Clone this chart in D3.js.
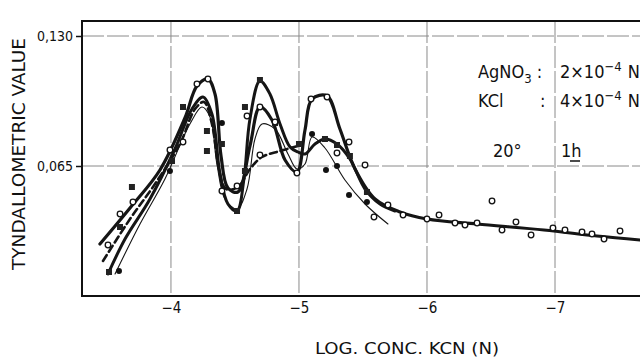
<!DOCTYPE html>
<html>
<head>
<meta charset="utf-8">
<script src="https://cdn.jsdelivr.net/npm/d3@7"></script>
<style>
  body { margin: 0; background: #fff; }
  text { font-family: "Liberation Sans Narrow", "DejaVu Sans Condensed", "Roboto", sans-serif; fill: #111; }
</style>
</head>
<body>
<script>
// tick values / labels
const xTicks = [-4, -5, -6, -7];
const yTicks = [0.065, 0.130];
const yTickLabels = ["0,065", "0,130"];

// thick solid curve (open circles)
const curveAx = [-3.445, -3.68, -3.914, -4.109, -4.203, -4.289, -4.344, -4.391, -4.445, -4.523, -4.617, -4.695, -4.789, -4.891, -4.984, -5.047, -5.102, -5.219, -5.32, -5.438, -5.594, -5.789, -6.0, -6.391, -6.914, -7.328, -7.664];
const curveAy = [0.026, 0.044, 0.063, 0.089, 0.105, 0.1085, 0.101, 0.07, 0.054, 0.052, 0.075, 0.0945, 0.088, 0.068, 0.062, 0.083, 0.0985, 0.1, 0.0835, 0.0635, 0.0485, 0.042, 0.0385, 0.036, 0.033, 0.030, 0.028];

// thick solid curve (filled squares)
const curveBx = [-3.508, -3.641, -3.836, -4.031, -4.164, -4.25, -4.32, -4.383, -4.445, -4.516, -4.57, -4.617, -4.695, -4.773, -4.852, -4.93, -4.992, -5.047, -5.125, -5.203, -5.297, -5.398, -5.516, -5.633, -5.75];
const curveBy = [0.011, 0.0285, 0.0485, 0.0735, 0.0935, 0.0995, 0.091, 0.061, 0.046, 0.0425, 0.0585, 0.0885, 0.1075, 0.101, 0.086, 0.0745, 0.072, 0.071, 0.076, 0.0785, 0.076, 0.0685, 0.0535, 0.046, 0.0425];

// dashed curve
const curveCx = [-3.469, -3.68, -3.875, -4.07, -4.188, -4.258, -4.32, -4.375, -4.43, -4.523, -4.617, -4.711, -4.852, -4.992];
const curveCy = [0.0175, 0.0385, 0.056, 0.076, 0.0935, 0.097, 0.086, 0.0635, 0.0535, 0.0545, 0.0635, 0.0695, 0.0725, 0.075];

// thin solid curve (filled circles)
const curveDx = [-3.563, -3.758, -3.953, -4.148, -4.242, -4.305, -4.359, -4.422, -4.516, -4.594, -4.656, -4.711, -4.813, -4.914, -4.984, -5.047, -5.102, -5.203, -5.359, -5.516, -5.695];
const curveDy = [0.011, 0.036, 0.0585, 0.086, 0.0945, 0.0895, 0.066, 0.0485, 0.0435, 0.0535, 0.0785, 0.086, 0.0835, 0.071, 0.0635, 0.066, 0.0795, 0.074, 0.058, 0.046, 0.036];

// measured points
const openX = [-3.508, -3.602, -3.703, -3.992, -4.094, -4.203, -4.289, -4.398, -4.516, -4.594, -4.695, -4.813, -4.695, -4.984, -5.094, -5.219, -5.391, -5.516, -5.297, -5.586, -5.695, -5.813,
  -6.0, -6.094, -6.219, -6.297, -6.391, -6.508, -6.586, -6.695, -6.813, -6.984, -7.078, -7.211, -7.289, -7.383, -7.508];
const openY = [0.0255, 0.041, 0.047, 0.073, 0.077, 0.106, 0.1085, 0.0525, 0.055, 0.09, 0.0945, 0.087, 0.0705, 0.0615, 0.0985, 0.0995, 0.077, 0.0655, 0.0715, 0.0395, 0.0455, 0.0405,
  0.0385, 0.0405, 0.0365, 0.0355, 0.0365, 0.0475, 0.033, 0.037, 0.0305, 0.034, 0.033, 0.032, 0.031, 0.0285, 0.0325];

const dotX = [-3.594, -3.992, -4.398, -5.102, -5.211, -5.297, -5.391, -5.531];
const dotY = [0.0125, 0.0625, 0.0865, 0.081, 0.063, 0.065, 0.0505, 0.047];

const squareX = [-3.516, -3.602, -3.695, -4.008, -4.094, -4.281, -4.281, -4.398, -4.516, -4.578, -4.578, -4.695, -4.813, -5.0, -5.203, -5.297, -5.398, -5.531];
const squareY = [0.012, 0.0345, 0.0545, 0.0675, 0.0945, 0.0825, 0.0725, 0.076, 0.0425, 0.0945, 0.0625, 0.108, 0.0865, 0.076, 0.0785, 0.0755, 0.07, 0.052];

const W = 640, H = 360;
const m = { top: 21, right: 0, bottom: 64, left: 82 };
const innerH = H - m.top - m.bottom; // 275

const svg = d3.select("body").append("svg")
  .attr("width", W)
  .attr("height", H);

const x = d3.scaleLinear().domain([-3.305, -7.664]).range([m.left, W]);
const y = d3.scaleLinear().domain([0, 0.1375]).range([m.top + innerH, m.top]);

// grid lines (faint, slightly broken like the scan)
svg.append("g")
  .selectAll("line.vg")
  .data(xTicks)
  .enter().append("line")
  .attr("x1", d => x(d)).attr("x2", d => x(d))
  .attr("y1", m.top).attr("y2", m.top + innerH)
  .attr("stroke", "#8a8a8a").attr("stroke-width", 1)
  .attr("stroke-dasharray", "22,3");

svg.append("g")
  .selectAll("line.hg")
  .data(yTicks)
  .enter().append("line")
  .attr("x1", m.left).attr("x2", W)
  .attr("y1", d => y(d)).attr("y2", d => y(d))
  .attr("stroke", "#8a8a8a").attr("stroke-width", 1)
  .attr("stroke-dasharray", "22,3");

// x axis
const xAxis = d3.axisBottom(x).tickValues(xTicks).tickSize(0).tickPadding(6)
  .tickFormat(d => "\u2212" + Math.abs(d));
const gx = svg.append("g")
  .attr("transform", "translate(0," + (m.top + innerH) + ")")
  .call(xAxis);
gx.select(".domain").remove();
gx.selectAll("text").attr("font-size", 15).attr("fill", "#111");

// y axis
const yAxis = d3.axisLeft(y).tickValues(yTicks).tickSize(6).tickPadding(3)
  .tickFormat((d, i) => yTickLabels[i]);
const gy = svg.append("g")
  .attr("transform", "translate(" + m.left + ",0)")
  .call(yAxis);
gy.select(".domain").remove();
gy.selectAll("line").attr("stroke", "#111").attr("stroke-width", 1.5);
gy.selectAll("text").attr("font-size", 14).attr("fill", "#111");

// frame
svg.append("path")
  .attr("d", "M" + W + "," + m.top + "H" + m.left + "V" + (m.top + innerH) + "H" + W)
  .attr("fill", "none").attr("stroke", "#111").attr("stroke-width", 2);

// curves
const line = d3.line()
  .x(d => x(d[0])).y(d => y(d[1]))
  .curve(d3.curveCatmullRom.alpha(0.5));

const curves = [
  { xs: curveAx, ys: curveAy, w: 3.2, dash: null },
  { xs: curveBx, ys: curveBy, w: 3, dash: null },
  { xs: curveCx, ys: curveCy, w: 2.6, dash: "7,4" },
  { xs: curveDx, ys: curveDy, w: 1.1, dash: null }
];

curves.forEach(c => {
  svg.append("path")
    .datum(c.xs.map((v, i) => [v, c.ys[i]]))
    .attr("d", line)
    .attr("fill", "none")
    .attr("stroke", "#151515")
    .attr("stroke-width", c.w)
    .attr("stroke-dasharray", c.dash)
    .attr("stroke-linecap", "round");
});

// markers
svg.append("g").selectAll("rect")
  .data(squareX.map((v, i) => [v, squareY[i]]))
  .enter().append("rect")
  .attr("x", d => x(d[0]) - 3).attr("y", d => y(d[1]) - 3)
  .attr("width", 6).attr("height", 6)
  .attr("fill", "#222");

svg.append("g").selectAll("circle.dot")
  .data(dotX.map((v, i) => [v, dotY[i]]))
  .enter().append("circle")
  .attr("cx", d => x(d[0])).attr("cy", d => y(d[1]))
  .attr("r", 3)
  .attr("fill", "#111");

svg.append("g").selectAll("circle.open")
  .data(openX.map((v, i) => [v, openY[i]]))
  .enter().append("circle")
  .attr("cx", d => x(d[0])).attr("cy", d => y(d[1]))
  .attr("r", 2.8)
  .attr("fill", "#fff")
  .attr("stroke", "#111").attr("stroke-width", 1.3);

// axis titles
svg.append("text")
  .attr("transform", "translate(25,154) rotate(-90)")
  .attr("text-anchor", "middle")
  .attr("font-size", 17)
  .attr("textLength", 232)
  .attr("lengthAdjust", "spacingAndGlyphs")
  .text("TYNDALLOMETRIC  VALUE");

svg.append("text")
  .attr("x", 315).attr("y", 354)
  .attr("font-size", 16)
  .attr("textLength", 184)
  .attr("lengthAdjust", "spacingAndGlyphs")
  .text("LOG. CONC. KCN  (N)");

// conditions
const note = svg.append("g").attr("font-size", 18);
const t1 = note.append("text").attr("x", 478).attr("y", 78);
t1.append("tspan").text("AgNO");
t1.append("tspan").attr("font-size", 13).attr("dy", 5).text("3");
t1.append("tspan").attr("dy", -5).text(" :");
const t1b = note.append("text").attr("x", 560).attr("y", 78);
t1b.append("tspan").text("2\u00d710");
t1b.append("tspan").attr("font-size", 13).attr("dy", -7).text("\u22124");
t1b.append("tspan").attr("dy", 7).attr("dx", 6).text("N");

note.append("text").attr("x", 478).attr("y", 107).text("KCl");
note.append("text").attr("x", 540).attr("y", 107).text(":");
const t2b = note.append("text").attr("x", 560).attr("y", 107);
t2b.append("tspan").text("4\u00d710");
t2b.append("tspan").attr("font-size", 13).attr("dy", -7).text("\u22124");
t2b.append("tspan").attr("dy", 7).attr("dx", 6).text("N");

note.append("text").attr("x", 493).attr("y", 157).text("20\u00b0");
note.append("text").attr("x", 561).attr("y", 157).text("1h");
svg.append("line")
  .attr("x1", 570).attr("x2", 580)
  .attr("y1", 161).attr("y2", 161)
  .attr("stroke", "#111").attr("stroke-width", 1.5);
</script>
</body>
</html>
